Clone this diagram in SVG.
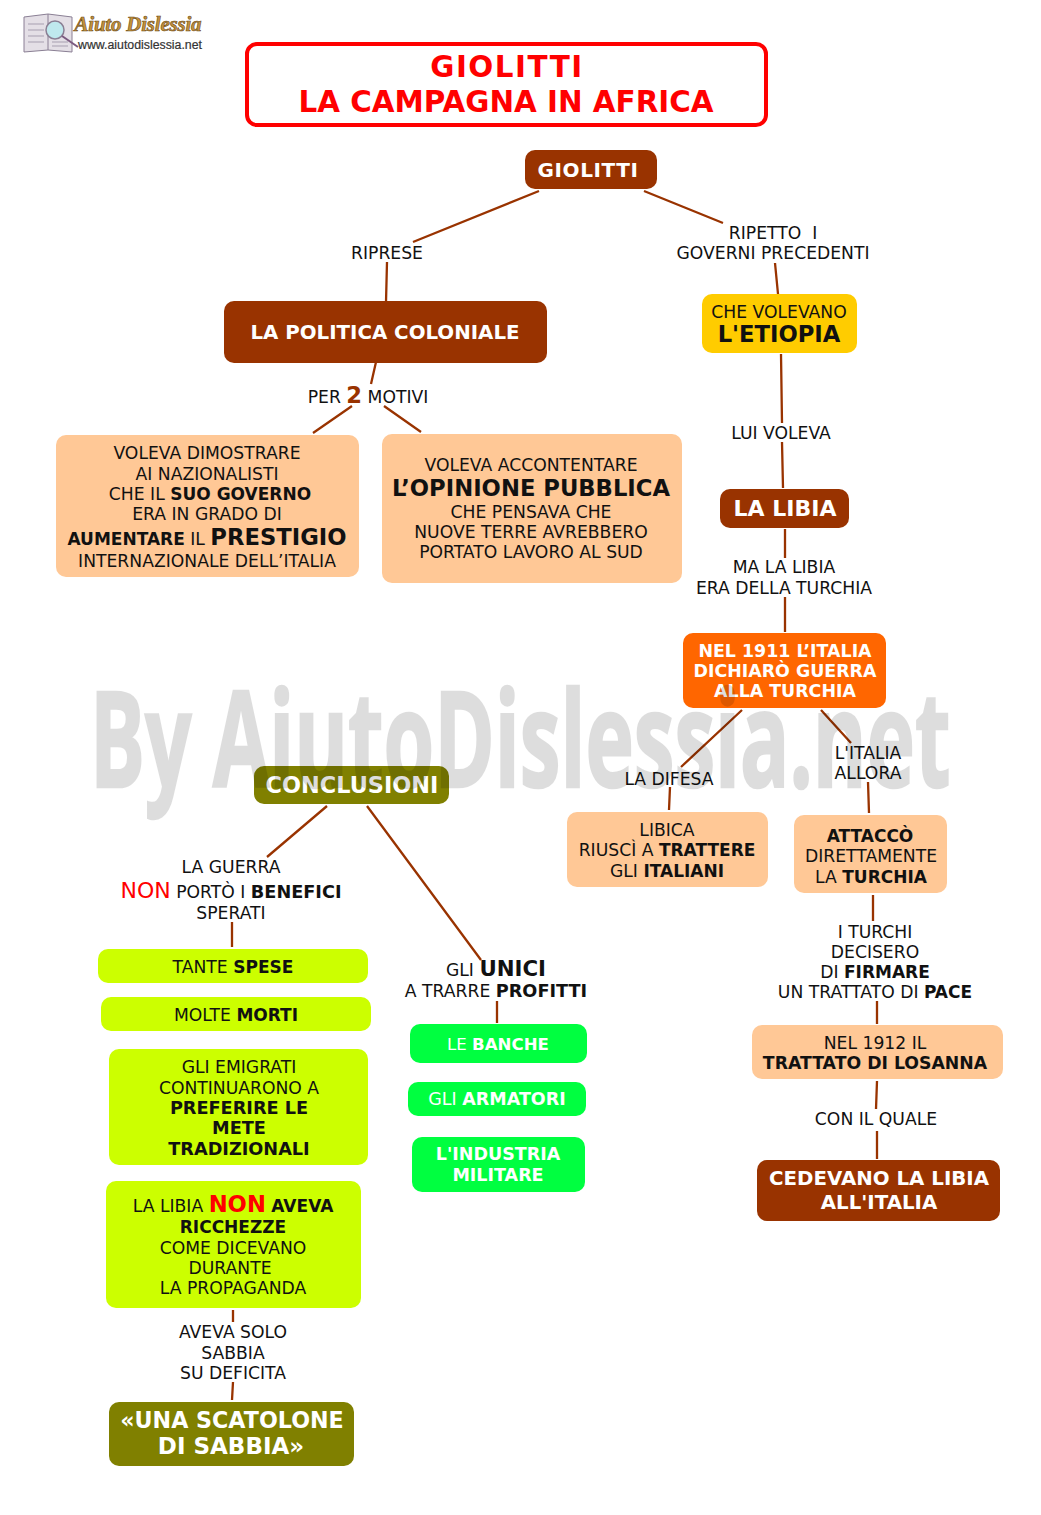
<svg xmlns="http://www.w3.org/2000/svg" width="1041" height="1515" viewBox="0 0 1041 1515">
<style>
text{font-family:"DejaVu Sans",Verdana,sans-serif;text-anchor:middle;font-size:17.2px;fill:#111;transform:translateY(.7px)}
.w{fill:#fff;font-weight:bold;font-size:20px}
.o{fill:#fff;font-weight:bold;font-size:17.4px}
.h{font-size:22.7px;font-weight:bold}
.l{stroke:#993300;stroke-width:2.3;fill:none}
.br{fill:#993300}.pe{fill:#ffc896}.ye{fill:#ccff00}.gr{fill:#00ff40}.ol{fill:#808000}
.b{font-weight:bold;font-size:17px}
.x{font-weight:bold;font-size:17.7px}
.t{font-weight:bold;font-size:29.4px;fill:#f00}
#watermark{transform:translate(90px,787px) scale(.62,1);font-family:"Open Sans",sans-serif;font-weight:bold;font-size:132px;text-anchor:start;fill:#000;stroke:#000;stroke-width:2.5;opacity:.13}
</style>
<rect width="1041" height="1515" fill="#fff"/>
<g id="logo">
<path d="M24 17 L48 14 L72 17 L72 52 L48 50 L24 52Z" fill="#e4dfe6" stroke="#8a7f94"/>
<path d="M48 14V50" stroke="#8a7f94"/>
<path d="M28 24H44M28 30H44M28 36H44M28 42H44M52 42H68M52 46H68" stroke="#a79fb0"/>
<circle cx="55" cy="30" r="9" fill="#bfe9ee" stroke="#8a7f94" stroke-width="1.5"/>
<path d="M62 36L78 47" stroke="#7b5a80" stroke-width="2"/>
<text x="138" y="30" style="font-family:'Liberation Serif',serif;font-size:21px;font-weight:bold;font-style:italic;fill:#c4923a;stroke:#6b4a1a;stroke-width:.6" textLength="127" lengthAdjust="spacing">Aiuto Dislessia</text>
<text x="140" y="48" style="font-family:'Liberation Sans',sans-serif;font-size:12px;fill:#333;stroke:#333;stroke-width:.2" textLength="124" lengthAdjust="spacingAndGlyphs">www.aiutodislessia.net</text>
</g>
<g id="connectors" class="l">
<path d="M539 191L413 242M387 262L386 302M644 191L723 223M775 263L778 294"/>
<path d="M376 362L371 384M352 406L313 433M384 406L421 432"/>
<path d="M781 354L782 423M782 442L783 488M785 529V558M785 597V632"/>
<path d="M742 710L681 767M670 787L669 810M821 710L851 743M868 782L869 813"/>
<path d="M873 895V921M877 1001V1024M877 1081L876 1109M877 1131V1159"/>
<path d="M327 806L267 857M367 806L481 960M232 922V947M497 1001V1023M233 1310V1322M233 1382L232 1400"/>
</g>
<g id="title"><rect x="247" y="44" width="519" height="81" rx="10" fill="#fff" stroke="#f00" stroke-width="4"/>
<text x="507" y="76" class="t" style="letter-spacing:1.5px">GIOLITTI</text><text x="506" y="111" class="t">LA CAMPAGNA IN AFRICA</text></g>
<g id="n-giolitti"><rect x="525" y="150" width="132" height="39" rx="10" class="br"/><text x="588" y="176.500" class="w" style="letter-spacing:.6px">GIOLITTI</text></g>
<g id="n-politica"><rect x="224" y="301" width="323" height="62" rx="10" class="br"/><text x="385" y="338.500" class="w" style="font-size:19.8px">LA POLITICA COLONIALE</text></g>
<g id="n-etiopia"><rect x="702" y="294" width="155" height="59" rx="10" fill="#ffcc00"/><text x="779" y="317">CHE VOLEVANO</text><text x="779" y="341.300" class="h">L'ETIOPIA</text></g>
<g id="n-dimostrare"><rect x="56" y="435" width="303" height="142" rx="10" class="pe"/>
<text x="207" y="458">VOLEVA DIMOSTRARE</text><text x="207" y="479">AI NAZIONALISTI</text><text x="210" y="499">CHE IL <tspan class="b">SUO GOVERNO</tspan></text><text x="207" y="519">ERA IN GRADO DI</text>
<text x="207" y="544.300"><tspan class="b">AUMENTARE</tspan> IL <tspan class="h">PRESTIGIO</tspan></text><text x="207" y="566">INTERNAZIONALE DELL’ITALIA</text></g>
<g id="n-opinione"><rect x="382" y="434" width="300" height="149" rx="10" class="pe"/>
<text x="531" y="470">VOLEVA ACCONTENTARE</text><text x="531" y="495.300" class="h">L’OPINIONE PUBBLICA</text><text x="531" y="517">CHE PENSAVA CHE</text><text x="531" y="537">NUOVE TERRE AVREBBERO</text><text x="531" y="557">PORTATO LAVORO AL SUD</text></g>
<g id="n-libia"><rect x="720" y="489" width="129" height="39" rx="10" class="br"/><text x="785" y="515.500" class="w" style="font-size:22px">LA LIBIA</text></g>
<g id="n-1911"><rect x="683" y="633" width="203" height="75" rx="10" fill="#ff6600"/><text x="785" y="656.500" class="o">NEL 1911 L’ITALIA</text><text x="785" y="676.500" class="o">DICHIARÒ GUERRA</text><text x="785" y="696.500" class="o">ALLA TURCHIA</text></g>
<g id="n-libica"><rect x="567" y="812" width="201" height="75" rx="10" class="pe"/><text x="667" y="835">LIBICA</text><text x="667" y="855">RIUSCÌ A <tspan class="b">TRATTERE</tspan></text><text x="667" y="876">GLI <tspan class="b">ITALIANI</tspan></text></g>
<g id="n-attacco"><rect x="794" y="815" width="153" height="78" rx="10" class="pe"/><text x="870" y="841" class="b">ATTACCÒ</text><text x="871" y="861">DIRETTAMENTE</text><text x="871" y="882">LA <tspan class="b">TURCHIA</tspan></text></g>
<g id="n-conclusioni"><rect x="254" y="766" width="195" height="38" rx="10" class="ol"/><text x="352" y="792.500" class="w" style="font-size:22.4px">CONCLUSIONI</text></g>
<g id="n-spese"><rect x="98" y="949" width="270" height="34" rx="10" class="ye"/><text x="233" y="972">TANTE <tspan class="b">SPESE</tspan></text></g>
<g id="n-morti"><rect x="101" y="997" width="270" height="34" rx="10" class="ye"/><text x="236" y="1020">MOLTE <tspan class="b">MORTI</tspan></text></g>
<g id="n-emigrati"><rect x="109" y="1049" width="259" height="116" rx="10" class="ye"/><text x="239" y="1072">GLI EMIGRATI</text><text x="239" y="1093">CONTINUARONO A</text><text x="239" y="1113" class="x">PREFERIRE LE</text><text x="239" y="1133" class="x">METE</text><text x="239" y="1154" class="x">TRADIZIONALI</text></g>
<g id="n-ricchezze"><rect x="106" y="1181" width="255" height="127" rx="10" class="ye"/><text x="233" y="1211">LA LIBIA <tspan class="h" style="fill:#f00">NON</tspan> <tspan class="b">AVEVA</tspan></text><text x="233" y="1232" class="b">RICCHEZZE</text><text x="233" y="1253">COME DICEVANO</text><text x="230" y="1273">DURANTE</text><text x="233" y="1293">LA PROPAGANDA</text></g>
<g id="n-scatolone"><rect x="109" y="1402" width="245" height="64" rx="10" class="ol"/><text x="232" y="1427.300" class="w" style="font-size:22.2px">«UNA SCATOLONE</text><text x="231" y="1453.300" class="w" style="font-size:23px">DI SABBIA»</text></g>
<g id="n-banche"><rect x="410" y="1024" width="177" height="39" rx="10" class="gr"/><text x="498" y="1049.300" style="fill:#fff;font-size:16.6px">LE <tspan class="b" style="font-size:16.6px">BANCHE</tspan></text></g>
<g id="n-armatori"><rect x="408" y="1082" width="178" height="34" rx="10" class="gr"/><text x="497" y="1104.300" style="fill:#fff;font-size:17.5px">GLI <tspan class="b" style="font-size:17.5px">ARMATORI</tspan></text></g>
<g id="n-industria"><rect x="412" y="1137" width="173" height="55" rx="10" class="gr"/><text x="498" y="1159.300" class="o" style="font-size:17.5px">L'INDUSTRIA</text><text x="498" y="1180.300" class="o" style="font-size:17.5px">MILITARE</text></g>
<g id="n-losanna"><rect x="752" y="1025" width="251" height="54" rx="10" class="pe"/><text x="875" y="1048">NEL 1912 IL</text><text x="875" y="1068" class="b" style="font-size:17.3px">TRATTATO DI LOSANNA</text></g>
<g id="n-cedevano"><rect x="757" y="1160" width="243" height="61" rx="10" class="br"/><text x="879" y="1184.300" class="w" style="font-size:19.8px">CEDEVANO LA LIBIA</text><text x="879" y="1208.300" class="w" style="font-size:19.8px">ALL'ITALIA</text></g>
<g id="labels">
<text x="387" y="258">RIPRESE</text>
<text x="773" y="238">RIPETTO &#160;I</text><text x="773" y="258">GOVERNI PRECEDENTI</text>
<text x="368" y="402">PER <tspan class="h" style="fill:#993300">2</tspan> MOTIVI</text>
<text x="781" y="438">LUI VOLEVA</text>
<text x="784" y="572">MA LA LIBIA</text><text x="784" y="593">ERA DELLA TURCHIA</text>
<text x="669" y="784">LA DIFESA</text>
<text x="868" y="758">L'ITALIA</text><text x="868" y="778">ALLORA</text>
<text x="231" y="872">LA GUERRA</text>
<text x="231" y="897"><tspan style="font-size:22px;fill:#f00">NON</tspan> PORTÒ I <tspan class="x">BENEFICI</tspan></text>
<text x="231" y="918">SPERATI</text>
<text x="496" y="975">GLI <tspan class="b" style="font-size:21.3px">UNICI</tspan></text>
<text x="496" y="996">A TRARRE <tspan class="x">PROFITTI</tspan></text>
<text x="875" y="937">I TURCHI</text><text x="875" y="957">DECISERO</text><text x="875" y="977">DI <tspan class="b">FIRMARE</tspan></text><text x="875" y="997">UN TRATTATO DI <tspan class="b">PACE</tspan></text>
<text x="876" y="1124">CON IL QUALE</text>
<text x="233" y="1337">AVEVA SOLO</text><text x="233" y="1358">SABBIA</text><text x="233" y="1378">SU DEFICITA</text>
</g>
<text id="watermark">By AiutoDislessia.net</text>
</svg>
